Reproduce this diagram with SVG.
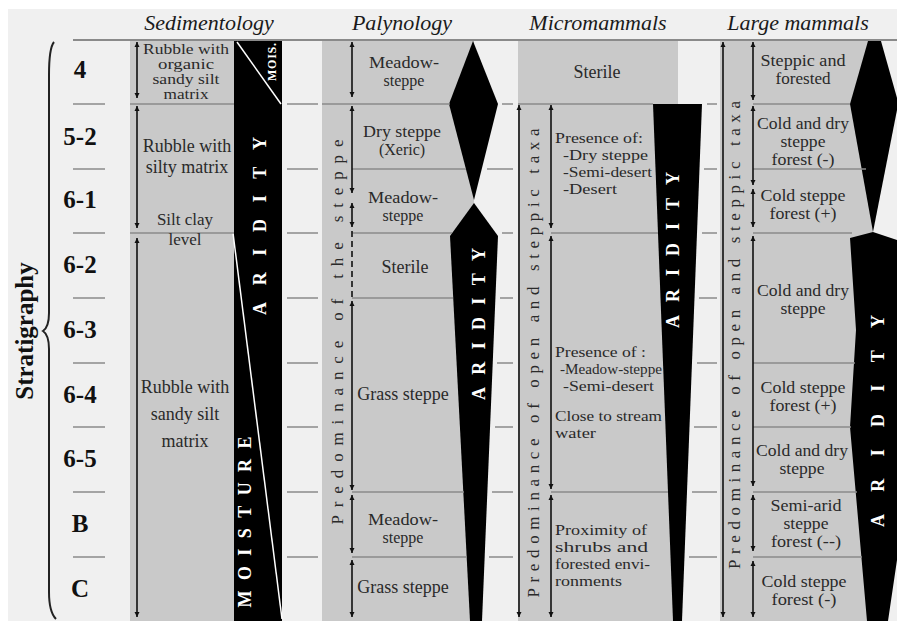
<svg xmlns="http://www.w3.org/2000/svg" width="897" height="621" viewBox="0 0 897 621">
<defs>
<style>
.t{font-family:"Liberation Serif","Times New Roman",serif;font-size:18px;fill:#2a2a2a;text-anchor:middle}
.m{font-size:16px}
.n{font-size:14px}
.p{font-size:15px}
.l{text-anchor:start}
.h{font-family:"Liberation Serif","Times New Roman",serif;font-style:italic;font-size:22px;fill:#1a1a1a;text-anchor:middle}
.s{font-family:"Liberation Serif","Times New Roman",serif;font-weight:bold;font-size:25px;fill:#111;text-anchor:middle}
.w{font-family:"Liberation Serif","Times New Roman",serif;font-weight:bold;font-size:18px;fill:#fff;text-anchor:middle}
.v{font-family:"Liberation Serif","Times New Roman",serif;font-size:17px;fill:#2a2a2a;text-anchor:middle}
.g{fill:#c9c9c9}
.k{fill:#000}
.sep{stroke:#8a8a8a;stroke-width:1.5;fill:none}
.tick{stroke:#8a8a8a;stroke-width:1.5;fill:none}
.ar{stroke:#111;stroke-width:1.6;fill:none;marker-start:url(#ah);marker-end:url(#ah)}
.dash{stroke:#111;stroke-width:1.6;fill:none;stroke-dasharray:6 4}
</style>
<marker id="ah" viewBox="0 0 8 8" refX="8" refY="4" markerWidth="5" markerHeight="6" orient="auto-start-reverse" markerUnits="userSpaceOnUse">
<path d="M0,0 L8,4 L0,8 z" fill="#111"/>
</marker>
</defs>
<rect x="0" y="0" width="897" height="621" fill="#ffffff"/>
<rect x="8" y="9" width="889" height="612" fill="#f0f0f0"/>

<g id="headers">
<text class="h" x="209" y="30">Sedimentology</text>
<text class="h" x="402" y="30">Palynology</text>
<text class="h" x="598" y="30">Micromammals</text>
<text class="h" x="798" y="30">Large mammals</text>
</g>

<g id="stratigraphy">
<text class="s" transform="translate(33,331) rotate(-90)" x="0" y="0">Stratigraphy</text>
<path d="M54,42 Q49,48 49,75 L49,313 Q49,327 43,331 Q49,335 49,349 L49,592 Q49,612 56,619" stroke="#222" stroke-width="2" fill="none"/>
<text class="s" x="80" y="78">4</text>
<text class="s" x="80" y="145">5-2</text>
<text class="s" x="80" y="208">6-1</text>
<text class="s" x="80" y="273">6-2</text>
<text class="s" x="80" y="338">6-3</text>
<text class="s" x="80" y="403">6-4</text>
<text class="s" x="80" y="467">6-5</text>
<text class="s" x="80" y="532">B</text>
<text class="s" x="80" y="597">C</text>
</g>

<g id="sedimentology">
<rect class="g" x="130" y="40" width="105" height="581"/>
<polygon class="k" points="234,40 282,40 282,621 234,621"/>
<line x1="237" y1="42" x2="281" y2="104" stroke="#fff" stroke-width="1.5"/>
<line x1="233" y1="233" x2="282" y2="619" stroke="#fff" stroke-width="1.5"/>
<text class="w" style="font-size:12px" transform="translate(272,62) rotate(-90)" x="0" y="4" textLength="38" lengthAdjust="spacing">MOIS.</text>
<text class="w" transform="translate(260,226) rotate(-90)" x="0" y="6" textLength="178" lengthAdjust="spacing">ARIDITY</text>
<text class="w" transform="translate(245,522) rotate(-90)" x="0" y="6" textLength="171" lengthAdjust="spacing">MOISTURE</text>
<line class="sep" x1="130" y1="104" x2="234" y2="104"/>
<line class="sep" x1="130" y1="233" x2="234" y2="233"/>
<text class="t n" x="186" y="54"><tspan x="186" textLength="86" lengthAdjust="spacingAndGlyphs">Rubble with</tspan><tspan x="186" dy="15" textLength="56" lengthAdjust="spacingAndGlyphs">organic</tspan><tspan x="186" dy="15" textLength="67" lengthAdjust="spacingAndGlyphs">sandy silt</tspan><tspan x="186" dy="15" textLength="45" lengthAdjust="spacingAndGlyphs">matrix</tspan></text>
<text class="t" x="187" y="152"><tspan x="187">Rubble with</tspan><tspan x="187" dy="21">silty matrix</tspan></text>
<text class="t" style="font-size:17px" x="185" y="225"><tspan x="185">Silt clay</tspan><tspan x="185" dy="20">level</tspan></text>
<text class="t" x="185" y="393"><tspan x="185">Rubble with</tspan><tspan x="185" dy="27">sandy silt</tspan><tspan x="185" dy="27">matrix</tspan></text>
</g>

<g id="palynology">
<rect class="g" x="322" y="40" width="152" height="581"/>
<polygon class="k" points="473,41 498,104 474,200 449,104"/>
<polygon class="k" points="474,203 498,236 482,621 470,621 450,236"/>
<line class="sep" x1="322" y1="104" x2="450" y2="104"/>
<line class="sep" x1="352" y1="169" x2="466" y2="169"/>
<line class="sep" x1="352" y1="233" x2="452" y2="233"/>
<line class="sep" x1="352" y1="298" x2="453" y2="298"/>
<line class="sep" x1="352" y1="492" x2="464" y2="492"/>
<line class="sep" x1="352" y1="557" x2="467" y2="557"/>
<text class="v" transform="translate(337,332) rotate(-90)" x="0" y="6" textLength="385" lengthAdjust="spacing">Predominance of the steppe</text>
<text class="w" transform="translate(479,324) rotate(-90)" x="0" y="6" textLength="152" lengthAdjust="spacing">ARIDITY</text>
<text class="t m" x="404" y="68"><tspan x="404" textLength="70" lengthAdjust="spacingAndGlyphs">Meadow-</tspan><tspan x="404" dy="18">steppe</tspan></text>
<text class="t m" x="402" y="137"><tspan x="402" textLength="78" lengthAdjust="spacingAndGlyphs">Dry steppe</tspan><tspan x="402" dy="18">(Xeric)</tspan></text>
<text class="t m" x="403" y="203"><tspan x="403" textLength="70" lengthAdjust="spacingAndGlyphs">Meadow-</tspan><tspan x="403" dy="18">steppe</tspan></text>
<text class="t" x="405" y="273">Sterile</text>
<text class="t" x="403" y="400">Grass steppe</text>
<text class="t m" x="403" y="525"><tspan x="403" textLength="70" lengthAdjust="spacingAndGlyphs">Meadow-</tspan><tspan x="403" dy="18">steppe</tspan></text>
<text class="t" x="403" y="593">Grass steppe</text>
</g>

<g id="micromammals">
<rect class="g" x="518" y="40" width="160" height="64"/>
<text class="t" x="597" y="78">Sterile</text>
<polygon class="g" points="518,104 656,104 676,621 518,621"/>
<polygon class="k" points="653,104 702,104 682,621 673,621"/>
<line class="sep" x1="518" y1="104" x2="653" y2="104"/>
<line class="sep" x1="551" y1="233" x2="658" y2="233"/>
<line class="sep" x1="551" y1="492" x2="668" y2="492"/>
<text class="v" transform="translate(533,363) rotate(-90)" x="0" y="6" textLength="469" lengthAdjust="spacing">Predominance of open and steppic taxa</text>
<text class="w" transform="translate(673,250) rotate(-90)" x="0" y="6" textLength="156" lengthAdjust="spacing">ARIDITY</text>
<text class="t p l" x="555" y="143"><tspan x="555" textLength="88" lengthAdjust="spacingAndGlyphs">Presence of:</tspan><tspan x="563" dy="17" textLength="85" lengthAdjust="spacingAndGlyphs">-Dry steppe</tspan><tspan x="563" dy="17" textLength="89" lengthAdjust="spacingAndGlyphs">-Semi-desert</tspan><tspan x="563" dy="17" textLength="54" lengthAdjust="spacingAndGlyphs">-Desert</tspan></text>
<text class="t p l" x="555" y="357"><tspan x="555" textLength="91" lengthAdjust="spacingAndGlyphs">Presence of :</tspan><tspan x="560" dy="17" textLength="102" lengthAdjust="spacingAndGlyphs">-Meadow-steppe</tspan><tspan x="563" dy="17" textLength="91" lengthAdjust="spacingAndGlyphs">-Semi-desert</tspan></text>
<text class="t p l" x="555" y="421"><tspan x="555" textLength="107" lengthAdjust="spacingAndGlyphs">Close to stream</tspan><tspan x="555" dy="17" textLength="41" lengthAdjust="spacingAndGlyphs">water</tspan></text>
<text class="t p l" x="555" y="535"><tspan x="555" textLength="92" lengthAdjust="spacingAndGlyphs">Proximity of</tspan><tspan x="555" dy="17" textLength="93" lengthAdjust="spacingAndGlyphs">shrubs and</tspan><tspan x="555" dy="17" textLength="95" lengthAdjust="spacingAndGlyphs">forested envi-</tspan><tspan x="555" dy="17" textLength="67" lengthAdjust="spacingAndGlyphs">ronments</tspan></text>
</g>

<g id="large-mammals">
<rect class="g" x="720" y="40" width="153" height="581"/>
<polygon class="k" points="868,41 881,41 897,98 897,110 873,232 850,104"/>
<polygon class="k" points="850,238 873,232 897,240 897,560 888,621 867,621 850,427 856,330"/>
<line class="sep" x1="753" y1="104" x2="850" y2="104"/>
<line class="sep" x1="753" y1="169" x2="866" y2="169"/>
<line class="sep" x1="753" y1="233" x2="852" y2="233"/>
<line class="sep" x1="753" y1="363" x2="855" y2="363"/>
<line class="sep" x1="753" y1="427" x2="851" y2="427"/>
<line class="sep" x1="753" y1="492" x2="857" y2="492"/>
<line class="sep" x1="753" y1="557" x2="862" y2="557"/>
<text class="v" transform="translate(734,335) rotate(-90)" x="0" y="6" textLength="468" lengthAdjust="spacing">Predominance of open and steppic taxa</text>
<text class="w" transform="translate(878,421) rotate(-90)" x="0" y="6" textLength="212" lengthAdjust="spacing">ARIDITY</text>
<text class="t m" x="803" y="66"><tspan x="803" textLength="85" lengthAdjust="spacingAndGlyphs">Steppic and</tspan><tspan x="803" dy="18" textLength="55" lengthAdjust="spacingAndGlyphs">forested</tspan></text>
<text class="t m" x="803" y="129"><tspan x="803" textLength="92" lengthAdjust="spacingAndGlyphs">Cold and dry</tspan><tspan x="803" dy="18" textLength="45" lengthAdjust="spacingAndGlyphs">steppe</tspan><tspan x="803" dy="18" textLength="63" lengthAdjust="spacingAndGlyphs">forest (-)</tspan></text>
<text class="t m" x="803" y="201"><tspan x="803" textLength="85" lengthAdjust="spacingAndGlyphs">Cold steppe</tspan><tspan x="803" dy="18" textLength="67" lengthAdjust="spacingAndGlyphs">forest (+)</tspan></text>
<text class="t m" x="803" y="296"><tspan x="803" textLength="92" lengthAdjust="spacingAndGlyphs">Cold and dry</tspan><tspan x="803" dy="18" textLength="45" lengthAdjust="spacingAndGlyphs">steppe</tspan></text>
<text class="t m" x="803" y="393"><tspan x="803" textLength="85" lengthAdjust="spacingAndGlyphs">Cold steppe</tspan><tspan x="803" dy="18" textLength="67" lengthAdjust="spacingAndGlyphs">forest (+)</tspan></text>
<text class="t m" x="802" y="456"><tspan x="802" textLength="92" lengthAdjust="spacingAndGlyphs">Cold and dry</tspan><tspan x="802" dy="18" textLength="45" lengthAdjust="spacingAndGlyphs">steppe</tspan></text>
<text class="t m" x="806" y="511"><tspan x="806" textLength="71" lengthAdjust="spacingAndGlyphs">Semi-arid</tspan><tspan x="806" dy="18" textLength="45" lengthAdjust="spacingAndGlyphs">steppe</tspan><tspan x="806" dy="18" textLength="70" lengthAdjust="spacingAndGlyphs">forest (--)</tspan></text>
<text class="t m" x="804" y="587"><tspan x="804" textLength="85" lengthAdjust="spacingAndGlyphs">Cold steppe</tspan><tspan x="804" dy="18" textLength="65" lengthAdjust="spacingAndGlyphs">forest (-)</tspan></text>
</g>

<g id="ticks">
<path class="tick" d="M73,104H105M73,169H105M73,233H105M73,298H105M73,363H105M73,427H105M73,492H105M73,557H105"/>
<path class="tick" d="M287,104H318M287,169H318M287,233H318M287,298H318M287,363H318M287,427H318M287,492H318M287,557H318"/>
<path class="tick" d="M502,104H513M487,169H513M502,233H513M500,298H513M497,363H513M495,427H513M492,492H513M489,557H513"/>
<path class="tick" d="M707,104H717M704,169H717M702,233H717M699,298H717M697,363H717M694,427H717M692,492H717M689,557H717"/>
<line x1="73" y1="40" x2="897" y2="40" stroke="#8a8a8a" stroke-width="2"/>
</g>

<g id="connectors">
<line class="ar" x1="137" y1="42" x2="137" y2="98"/>
<line class="ar" x1="137" y1="106" x2="137" y2="228"/>
<line class="ar" x1="137" y1="238" x2="137" y2="617"/>
<line class="ar" x1="352" y1="42" x2="352" y2="97"/>
<line class="ar" x1="352" y1="106" x2="352" y2="193"/>
<line class="ar" x1="352" y1="203" x2="352" y2="227"/>
<line class="dash" x1="352" y1="231" x2="352" y2="298"/>
<line class="ar" x1="352" y1="301" x2="352" y2="490"/>
<line class="ar" x1="352" y1="495" x2="352" y2="553"/>
<line class="ar" x1="352" y1="560" x2="352" y2="617"/>
<line class="ar" x1="519" y1="105" x2="519" y2="617"/>
<line class="ar" x1="551" y1="105" x2="551" y2="228"/>
<line class="ar" x1="551" y1="236" x2="551" y2="489"/>
<line class="ar" x1="551" y1="495" x2="551" y2="617"/>
<line class="ar" x1="723" y1="42" x2="723" y2="617"/>
<line class="ar" x1="753" y1="42" x2="753" y2="100"/>
<line class="ar" x1="753" y1="106" x2="753" y2="185"/>
<line class="ar" x1="753" y1="189" x2="753" y2="227"/>
<line class="ar" x1="753" y1="236" x2="753" y2="486"/>
<line class="ar" x1="753" y1="495" x2="753" y2="551"/>
<line class="ar" x1="753" y1="561" x2="753" y2="617"/>
</g>
</svg>
